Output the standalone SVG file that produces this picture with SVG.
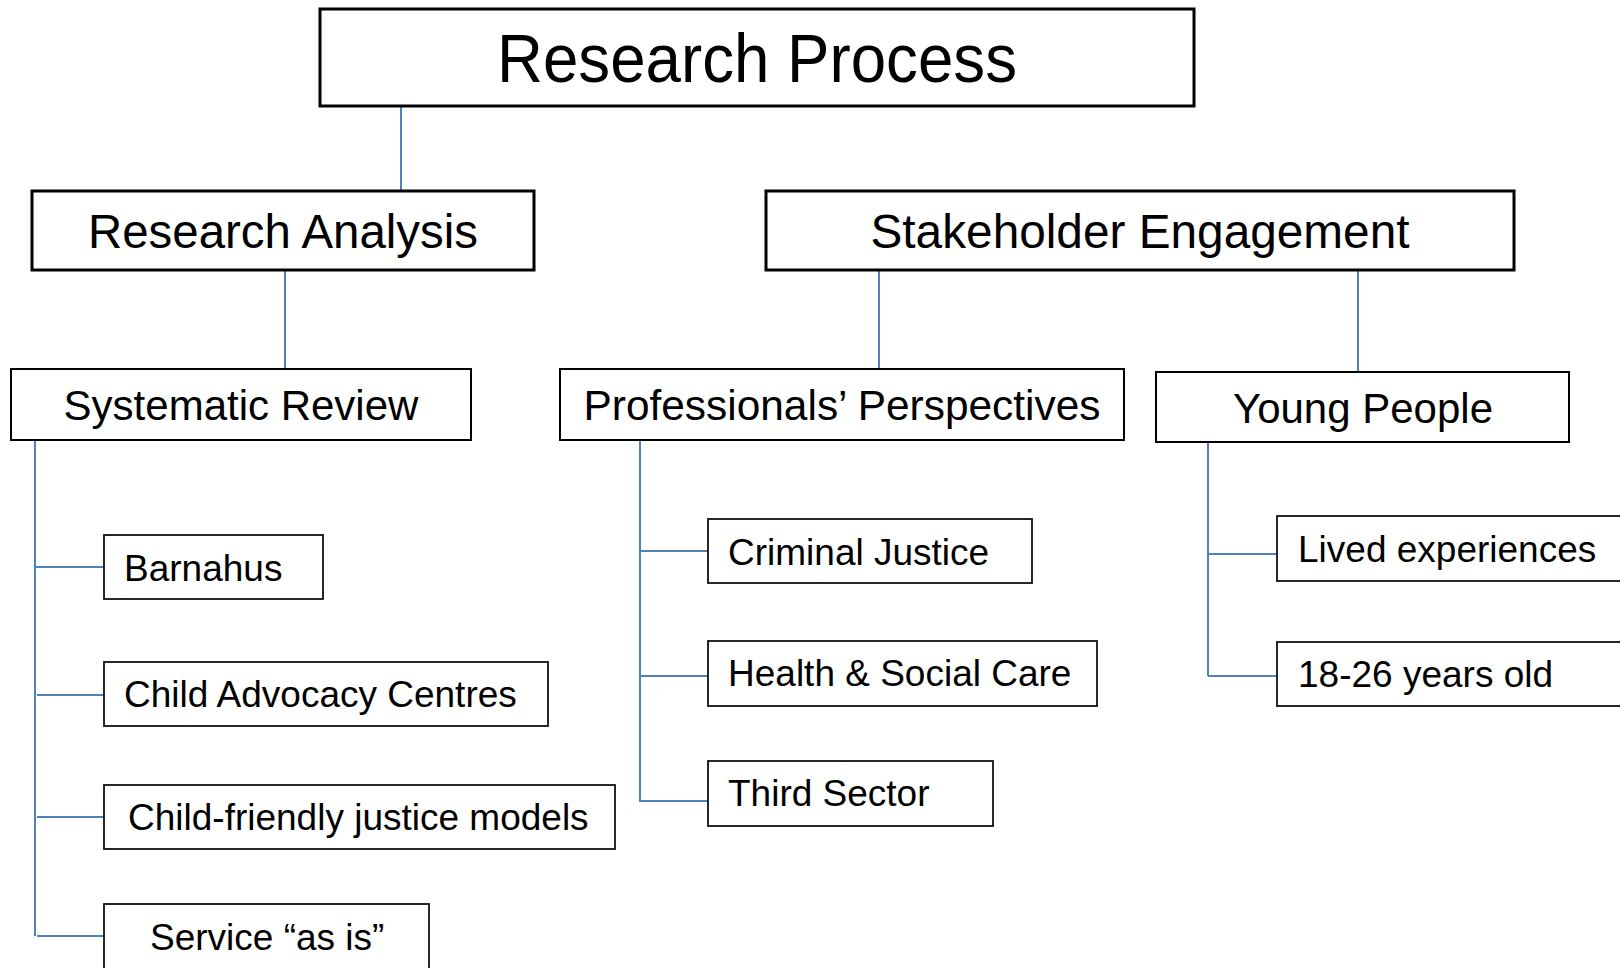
<svg xmlns="http://www.w3.org/2000/svg" width="1620" height="968" viewBox="0 0 1620 968">
<style>
.big{fill:#fff;stroke:#000;stroke-width:3}
.mid{fill:#fff;stroke:#000;stroke-width:2}
.sm{fill:#fff;stroke:#111;stroke-width:1.8}
text{font-family:"Liberation Sans",Arial,sans-serif;fill:#000}
.c{fill:none;stroke:#4F81BD;stroke-width:2}
</style>
<rect width="1620" height="968" fill="#fff"/>
<g id="connectors">
<path class="c" d="M401 106V191"/>
<path class="c" d="M285 270V369"/>
<path class="c" d="M879 270V369"/>
<path class="c" d="M1358 270V372"/>
<path class="c" d="M35 440V936M35 567H104M37 695H104M37 817H104M37 936H104"/>
<path class="c" d="M640 440V802M640 551H708M640 676H708M640 801H708"/>
<path class="c" d="M1208 442V676M1208 554H1277M1208 676H1277"/>
</g>
<g id="research-process">
<rect class="big" x="320" y="9" width="874" height="97"/>
<text x="757" y="82" font-size="68" text-anchor="middle" textLength="520" lengthAdjust="spacingAndGlyphs">Research Process</text>
</g>
<g id="research-analysis">
<rect class="big" x="32" y="191" width="502" height="79"/>
<text x="283" y="248" font-size="48" text-anchor="middle" textLength="390" lengthAdjust="spacingAndGlyphs">Research Analysis</text>
</g>
<g id="stakeholder-engagement">
<rect class="big" x="766" y="191" width="748" height="79"/>
<text x="1140" y="248" font-size="48" text-anchor="middle" textLength="539" lengthAdjust="spacingAndGlyphs">Stakeholder Engagement</text>
</g>
<g id="systematic-review">
<rect class="mid" x="11" y="369" width="460" height="71"/>
<text x="241" y="420" font-size="42" text-anchor="middle">Systematic Review</text>
</g>
<g id="professionals-perspectives">
<rect class="mid" x="560" y="369" width="564" height="71"/>
<text x="842" y="420" font-size="42" text-anchor="middle" textLength="517" lengthAdjust="spacingAndGlyphs">Professionals’ Perspectives</text>
</g>
<g id="young-people">
<rect class="mid" x="1156" y="372" width="413" height="70"/>
<text x="1363" y="423" font-size="42" text-anchor="middle">Young People</text>
</g>
<g id="barnahus">
<rect class="sm" x="104" y="535" width="219" height="64"/>
<text x="124" y="581" font-size="37">Barnahus</text>
</g>
<g id="child-advocacy-centres">
<rect class="sm" x="104" y="662" width="444" height="64"/>
<text x="124" y="707" font-size="37">Child Advocacy Centres</text>
</g>
<g id="child-friendly-justice-models">
<rect class="sm" x="104" y="785" width="511" height="64"/>
<text x="128" y="830" font-size="37">Child-friendly justice models</text>
</g>
<g id="service-as-is">
<rect class="sm" x="104" y="904" width="325" height="70"/>
<text x="150" y="950" font-size="37">Service “as is”</text>
</g>
<g id="criminal-justice">
<rect class="sm" x="708" y="519" width="324" height="64"/>
<text x="728" y="565" font-size="37">Criminal Justice</text>
</g>
<g id="health-social-care">
<rect class="sm" x="708" y="641" width="389" height="65"/>
<text x="728" y="686" font-size="37">Health &amp; Social Care</text>
</g>
<g id="third-sector">
<rect class="sm" x="708" y="761" width="285" height="65"/>
<text x="728" y="806" font-size="37">Third Sector</text>
</g>
<g id="lived-experiences">
<rect class="sm" x="1277" y="516" width="360" height="65"/>
<text x="1298" y="562" font-size="37">Lived experiences</text>
</g>
<g id="age-18-26">
<rect class="sm" x="1277" y="642" width="360" height="64"/>
<text x="1298" y="687" font-size="37">18-26 years old</text>
</g>
</svg>
